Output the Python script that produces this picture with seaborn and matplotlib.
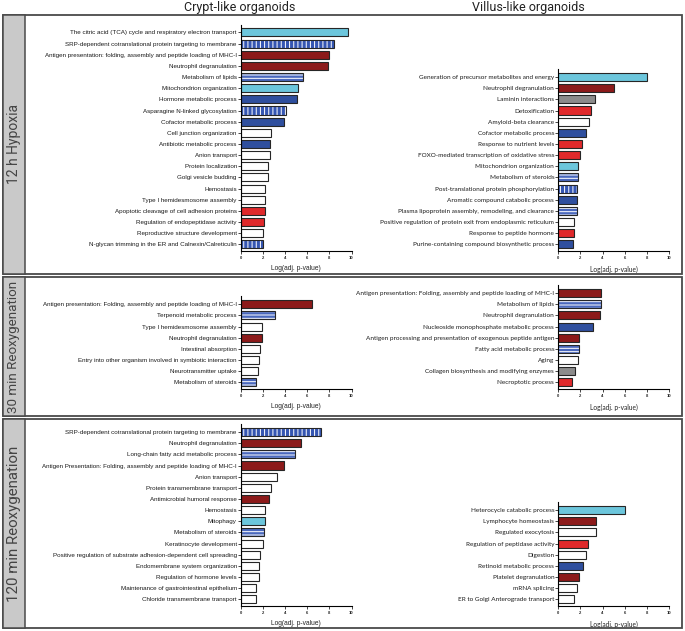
import numpy as np
import matplotlib
matplotlib.use("Agg")
import matplotlib.pyplot as plt
import seaborn as sns
import pandas as pd
from matplotlib.patches import Rectangle

# data: terms, -log(adj p) and colour code per bar
# C cyan, B blue, D dark red, R red, W white, G gray, V blue+vertical stripes, H blue+horizontal stripes
hyp_crypt_terms = ["The citric acid (TCA) cycle and respiratory electron transport",
                   "SRP-dependent cotranslational protein targeting to membrane",
                   "Antigen presentation: folding, assembly and peptide loading of MHC-I",
                   "Neutrophil degranulation", "Metabolism of lipids", "Mitochondrion organization",
                   "Hormone metabolic process", "Asparagine N-linked glycosylation",
                   "Cofactor metabolic process", "Cell junction organization",
                   "Antibiotic metabolic process", "Anion transport", "Protein localization",
                   "Golgi vesicle budding", "Hemostasis", "Type I hemidesmosome assembly",
                   "Apoptotic cleavage of cell adhesion proteins",
                   "Regulation of endopeptidase activity", "Reproductive structure development",
                   "N-glycan trimming in the ER and Calnexin/Calreticulin"]
hyp_crypt_vals = [9.7, 8.4, 8.0, 7.9, 5.6, 5.2, 5.1, 4.1, 3.9, 2.7,
                  2.6, 2.6, 2.45, 2.45, 2.2, 2.2, 2.2, 2.05, 2.0, 1.95]
hyp_crypt_kind = list("CVDDHCBVBWBWWWWWRRWV")

hyp_villus_terms = ["Generation of precursor metabolites and energy", "Neutrophil degranulation",
                    "Laminin interactions", "Detoxification", "Amyloid-beta clearance",
                    "Cofactor metabolic process", "Response to nutrient levels",
                    "FOXO-mediated transcription of oxidative stress", "Mitochondrion organization",
                    "Metabolism of steroids", "Post-translational protein phosphorylation",
                    "Aromatic compound catabolic process",
                    "Plasma lipoprotein assembly, remodeling, and clearance",
                    "Positive regulation of protein exit from endoplasmic reticulum",
                    "Response to peptide hormone", "Purine-containing compound biosynthetic process"]
hyp_villus_vals = [8.0, 5.0, 3.3, 3.0, 2.8, 2.5, 2.1, 1.95, 1.8, 1.8, 1.7, 1.65, 1.65, 1.45, 1.45, 1.35]
hyp_villus_kind = list("CDGRWBRRCHVBHWRB")

r30_crypt_terms = ["Antigen presentation: Folding, assembly and peptide loading of MHC-I",
                   "Terpenoid metabolic process", "Type I hemidesmosome assembly",
                   "Neutrophil degranulation", "Intestinal absorption",
                   "Entry into other organism involved in symbiotic interaction",
                   "Neurotransmitter uptake", "Metabolism of steroids"]
r30_crypt_vals = [6.4, 3.1, 1.9, 1.9, 1.7, 1.6, 1.5, 1.4]
r30_crypt_kind = list("DHWDWWWH")

r30_villus_terms = ["Antigen presentation: Folding, assembly and peptide loading of MHC-I",
                    "Metabolism of lipids", "Neutrophil degranulation",
                    "Nucleoside monophosphate metabolic process",
                    "Antigen processing and presentation of exogenous peptide antigen",
                    "Fatty acid metabolic process", "Aging",
                    "Collagen biosynthesis and modifying enzymes", "Necroptotic process"]
r30_villus_vals = [3.9, 3.9, 3.8, 3.15, 1.85, 1.85, 1.8, 1.55, 1.25]
r30_villus_kind = list("DHDBDHWGR")

r120_crypt_terms = ["SRP-dependent cotranslational protein targeting to membrane",
                    "Neutrophil degranulation", "Long-chain fatty acid metabolic process",
                    "Antigen Presentation: Folding, assembly and peptide loading of MHC-I",
                    "Anion transport", "Protein transmembrane transport",
                    "Antimicrobial humoral response", "Hemostasis", "Mitophagy",
                    "Metabolism of steroids", "Keratinocyte development",
                    "Positive regulation of substrate adhesion-dependent cell spreading",
                    "Endomembrane system organization", "Regulation of hormone levels",
                    "Maintenance of gastrointestinal epithelium", "Chloride transmembrane transport"]
r120_crypt_vals = [7.2, 5.45, 4.85, 3.9, 3.3, 2.75, 2.55, 2.2, 2.2, 2.05, 2.0, 1.75, 1.65, 1.65, 1.4, 1.35]
r120_crypt_kind = list("VDHDWWDWCHWWWWWW")

r120_villus_terms = ["Heterocycle catabolic process", "Lymphocyte homeostasis",
                     "Regulated exocytosis", "Regulation of peptidase activity", "Digestion",
                     "Retinoid metabolic process", "Platelet degranulation", "mRNA splicing",
                     "ER to Golgi Anterograde transport"]
r120_villus_vals = [6.0, 3.4, 3.4, 2.65, 2.5, 2.25, 1.85, 1.7, 1.45]
r120_villus_kind = list("CDWRWBDWW")

col_titles = ["Crypt-like organoids", "Villus-like organoids"]
row_titles = ["12 h Hypoxia", "30 min Reoxygenation", "120 min Reoxygenation"]

FILL = {"C": "#6cc6dc", "B": "#2f4f9e", "D": "#8c1a1a", "R": "#e0292b",
        "W": "white", "G": "#8c8c8c", "V": "#3556b2", "H": "#4a68bd"}
HATCH = {"V": "||||", "H": "-----"}

sns.set_style("white")
plt.rcParams["font.family"] = ["Liberation Sans", "DejaVu Sans"]
plt.rcParams["hatch.linewidth"] = 0.7

W, H = 685, 631
fig = plt.figure(figsize=(W / 100, H / 100), dpi=100)


def px(x0, y0, x1, y1):
    return [x0 / W, 1 - y1 / H, (x1 - x0) / W, (y1 - y0) / H]


# frame: one box per row plus grey strip on the left
rows_y = [(15, 274), (277, 416), (419, 628)]
row_fs = [10, 9.6, 10.8]
for (y0, y1), name, fs in zip(rows_y, row_titles, row_fs):
    fig.add_artist(Rectangle((3 / W, 1 - y1 / H), 679 / W, (y1 - y0) / H, transform=fig.transFigure,
                             facecolor="none", edgecolor="#4a4a4a", lw=1.3))
    fig.add_artist(Rectangle((3 / W, 1 - y1 / H), 22 / W, (y1 - y0) / H, transform=fig.transFigure,
                             facecolor="#c9c9c9", edgecolor="#4a4a4a", lw=1.1))
    fig.text(14 / W, 1 - (y0 + y1) / 2 / H, name, rotation=90, ha="center", va="center",
             fontsize=fs, color="#444444", family="Roboto")

fig.text(240 / W, 1 - 7 / H, col_titles[0], ha="center", va="center", fontsize=9, color="#222", family="Roboto")
fig.text(528 / W, 1 - 7 / H, col_titles[1], ha="center", va="center", fontsize=9, color="#222", family="Roboto")

STEP = 11.15


def panel(x0, ybot, terms, vals, kinds, fam, fs):
    n = len(terms)
    top = ybot - (n - 1 + 1.3) * STEP
    ax = fig.add_axes(px(x0, top, x0 + 110.5, ybot))
    ax.set_facecolor("none")
    df = pd.DataFrame({"term": terms, "val": vals})
    pal = {t: FILL[k] for t, k in zip(terms, kinds)}
    sns.barplot(data=df, x="val", y="term", hue="term", palette=pal, legend=False, saturation=1,
                width=0.72, edgecolor="#262626", linewidth=0.8, errorbar=None, ax=ax)
    striped = []
    for p in ax.patches:
        i = int(round(p.get_y() + p.get_height() / 2))
        if kinds[i] in HATCH:
            p.set_hatch(HATCH[kinds[i]])
            p.set_edgecolor("white")
            p.set_linewidth(0)
            striped.append(i)
    striped = sorted(striped)
    if striped:
        ax.barh(striped, [vals[i] for i in striped], height=0.72, fill=False,
                edgecolor="#262626", linewidth=0.8)
    ax.set_xlim(0, 10)
    ax.set_ylim(n - 1 + 0.6, -0.7)
    ax.set_xticks(range(0, 11, 2))
    ax.set_xticklabels([str(v) for v in range(0, 11, 2)], fontsize=3, fontweight="bold")
    ax.tick_params(axis="x", length=2, width=0.6, pad=1.5, bottom=True)
    ax.tick_params(axis="y", length=2, width=0.6, pad=1, left=True)
    for lab in ax.get_yticklabels():
        lab.set_fontsize(fs)
        lab.set_family(fam)
        lab.set_color("#1a1a1a")
    ax.set_ylabel("")
    ax.set_xlabel("Log(adj. p-value)", fontsize=4.8, labelpad=4, color="#222", family=fam)
    sns.despine(ax=ax)
    for s in ("left", "bottom"):
        ax.spines[s].set_linewidth(0.8)
        ax.spines[s].set_color("black")
    return ax


LEFT_FAM = ["Liberation Sans Narrow", "Liberation Sans"]
RIGHT_FAM = ["Lato", "Liberation Sans"]

panel(241, 251, hyp_crypt_terms, hyp_crypt_vals, hyp_crypt_kind, LEFT_FAM, 4.5)
panel(558.3, 251, hyp_villus_terms, hyp_villus_vals, hyp_villus_kind, RIGHT_FAM, 4.6)
panel(241, 389, r30_crypt_terms, r30_crypt_vals, r30_crypt_kind, LEFT_FAM, 4.5)
panel(558.3, 389, r30_villus_terms, r30_villus_vals, r30_villus_kind, RIGHT_FAM, 4.6)
panel(241, 606, r120_crypt_terms, r120_crypt_vals, r120_crypt_kind, LEFT_FAM, 4.5)
panel(558.3, 606, r120_villus_terms, r120_villus_vals, r120_villus_kind, RIGHT_FAM, 4.6)

fig.savefig("out.png", dpi=100)
